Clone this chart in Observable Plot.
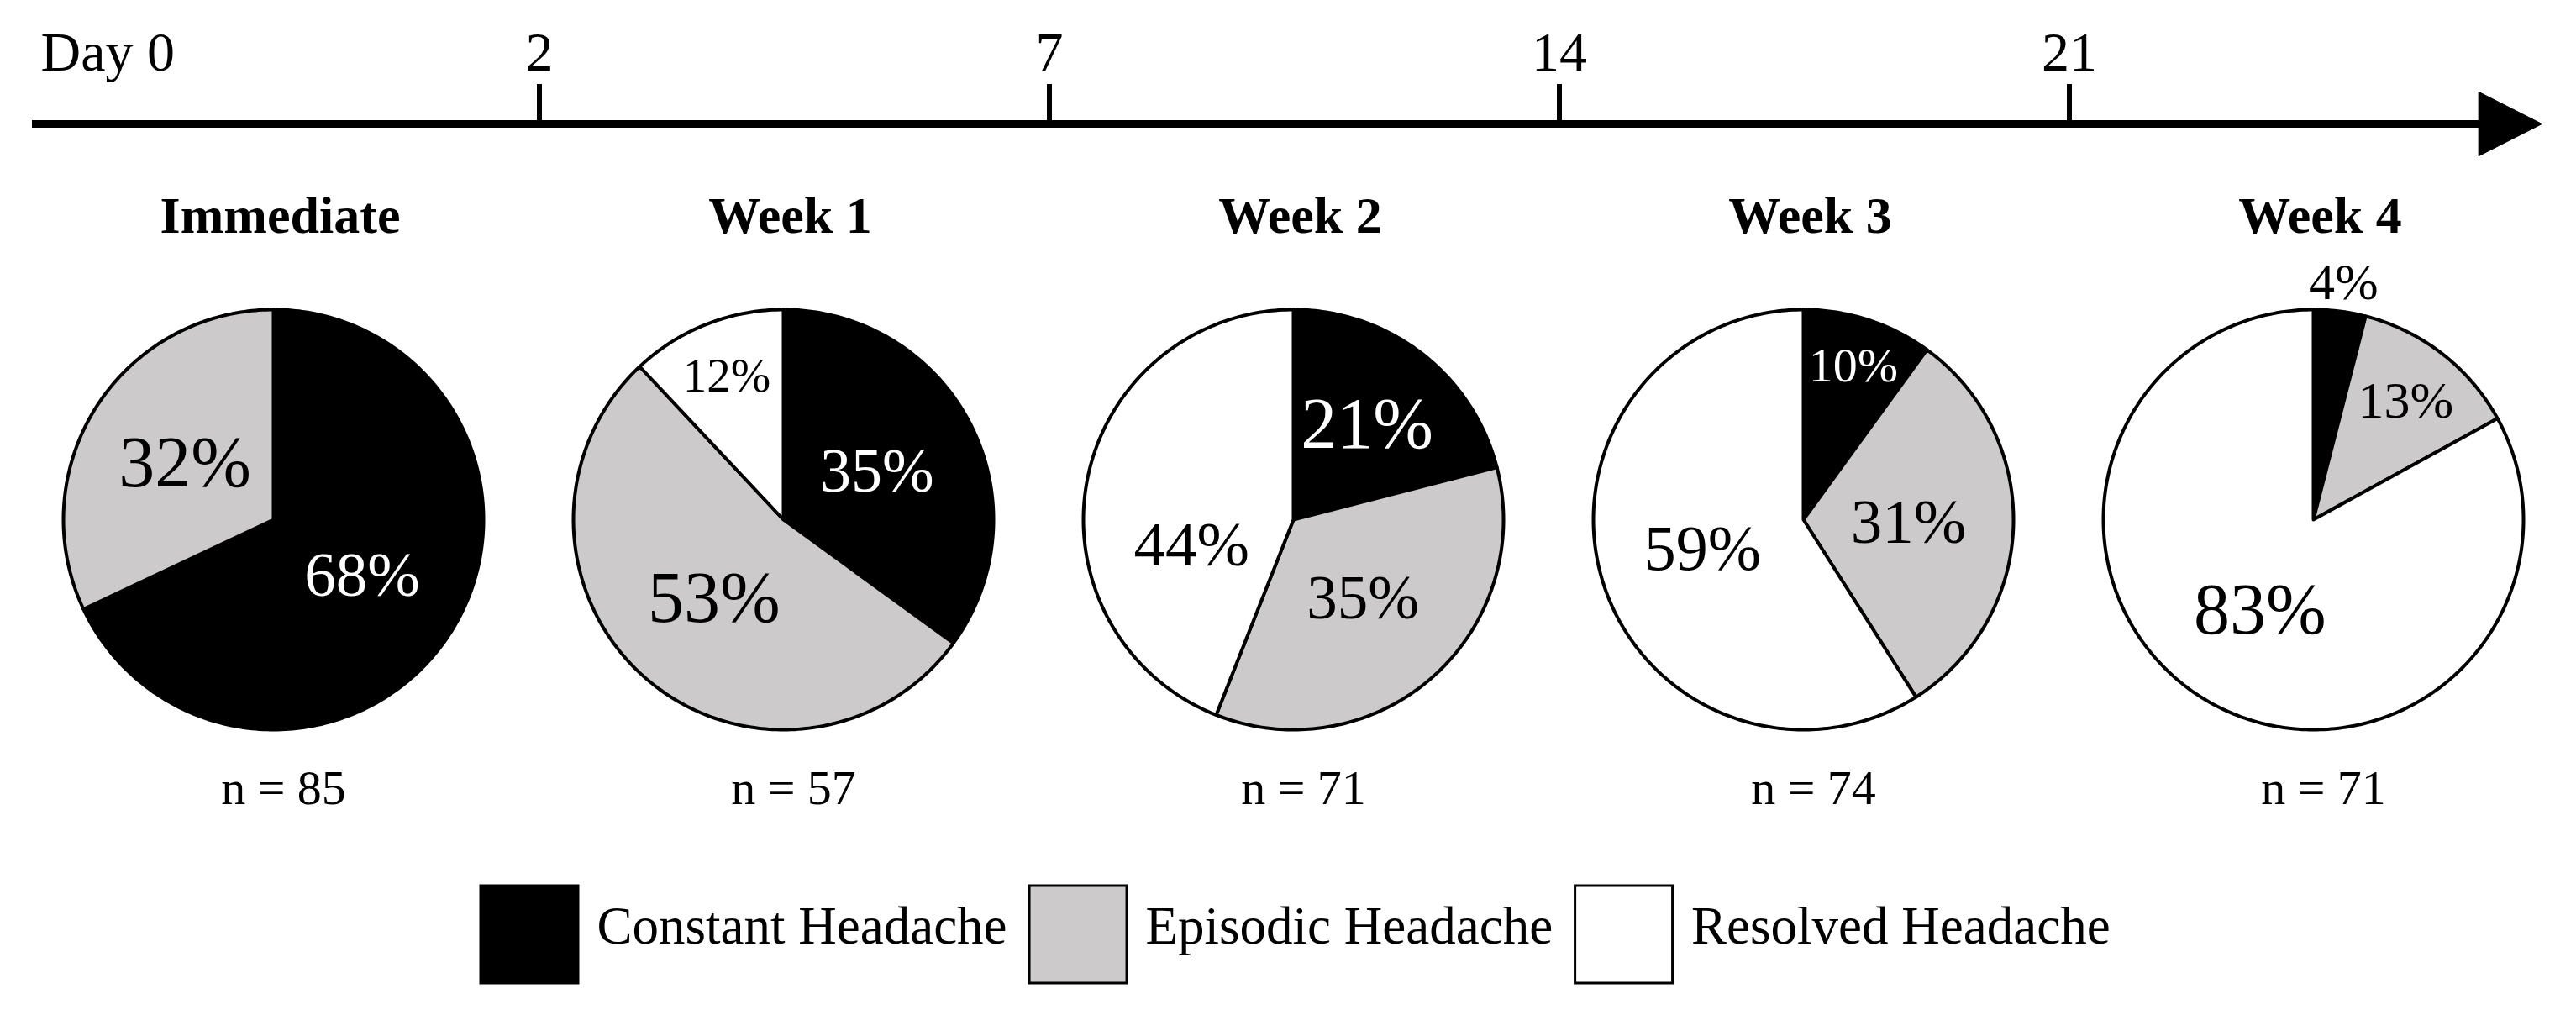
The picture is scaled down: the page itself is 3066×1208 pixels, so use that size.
<!DOCTYPE html>
<html>
<head>
<meta charset="utf-8">
<script src="https://cdn.jsdelivr.net/npm/d3@7"></script>
<script src="https://cdn.jsdelivr.net/npm/@observablehq/plot@0.6"></script>
<style>
  html, body { margin: 0; padding: 0; background: #fff; }
  #chart svg { display: block; }
</style>
</head>
<body>
<div id="chart"></div>
<script>
// ---------------- data ----------------
const periods = ["Immediate", "Week 1", "Week 2", "Week 3", "Week 4"];
const sampleSizes = [85, 57, 71, 74, 71];
const categories = ["Constant Headache", "Episodic Headache", "Resolved Headache"];
const constantPct = [68, 35, 21, 10, 4];
const episodicPct = [32, 53, 35, 31, 13];
const resolvedPct = [0, 12, 44, 59, 83];
const dayLabels = ["Day 0", "2", "7", "14", "21"];

// ---------------- style / layout ----------------
const colors = ["#000000", "#cccacb", "#ffffff"];
// per-label font sizes (style only), [period][category]
const labelFontSize = [
  [75, 86, 0],
  [74, 86, 57],
  [86, 73, 75],
  [58, 75, 76],
  [62, 62, 86]
];
// per-label angular nudge in degrees (layout only), [period][category]
const labelAngleShift = [
  [0, 0, 0],
  [0, 0, 0],
  [0, 0, -25],
  [0, 0, 0],
  [0, 0, 0]
];
const W = 3066, H = 1208;
const FONT = "'Liberation Serif', 'Times New Roman', serif";
const PIE0 = 325, STEP = 607, CY = 618, R = 250;
const LINE_Y = 147, LINE_X0 = 38, ARROW_BASE = 2950, ARROW_TIP = 3025, ARROW_HALF = 38;
const cx = i => PIE0 + STEP * i;

const series = [constantPct, episodicPct, resolvedPct];

// slices as closed polygons computed from the values
const slicePts = [];
const labels = [];
periods.forEach((p, i) => {
  let cum = 0;
  series.forEach((arr, k) => {
    const v = arr[i];
    if (v > 0) {
      const a0 = cum / 100 * 2 * Math.PI, a1 = (cum + v) / 100 * 2 * Math.PI;
      const id = i + "-" + k;
      slicePts.push({id, cat: categories[k], x: cx(i), y: CY});
      const n = Math.max(2, Math.ceil((a1 - a0) / (Math.PI / 180)));
      for (let j = 0; j <= n; j++) {
        const a = a0 + (a1 - a0) * j / n;
        slicePts.push({id, cat: categories[k], x: cx(i) + R * Math.sin(a), y: CY - R * Math.cos(a)});
      }
      const mid = (a0 + a1) / 2 + labelAngleShift[i][k] * Math.PI / 180;
      const outside = v < 6;
      const rf = outside ? 1.14 : v < 25 ? 0.5 + (25 - v) * 0.018 : 0.5;
      labels.push({
        text: v + "%",
        x: cx(i) + rf * R * Math.sin(mid),
        y: CY - rf * R * Math.cos(mid),
        size: labelFontSize[i][k],
        white: k === 0 && !outside
      });
    }
    cum += v;
  });
});

const tickPos = dayLabels.slice(1).map((d, j) => (cx(j) + cx(j + 1)) / 2 + 13);

// legend layout derived from measured text widths
const ctx = document.createElement("canvas").getContext("2d");
ctx.font = "63px " + FONT;
let lx = 572;
const legendItems = categories.map(c => {
  const item = {cat: c, x1: lx, x2: lx + 116, tx: lx + 116 + 22};
  lx = item.tx + ctx.measureText(c).width + 27;
  return item;
});

const chart = Plot.plot({
  width: W,
  height: H,
  margin: 0,
  x: {domain: [0, W], range: [0, W], axis: null},
  y: {domain: [0, H], range: [0, H], axis: null},
  color: {domain: categories, range: colors},
  style: {fontFamily: FONT, background: "#fff", color: "#000"},
  marks: [
    // timeline
    Plot.ruleY([LINE_Y], {x1: LINE_X0, x2: ARROW_BASE + 5, strokeWidth: 9, stroke: "black"}),
    Plot.line([
      {x: ARROW_BASE, y: LINE_Y - ARROW_HALF},
      {x: ARROW_TIP, y: LINE_Y},
      {x: ARROW_BASE, y: LINE_Y + ARROW_HALF}
    ], {x: "x", y: "y", curve: "linear-closed", fill: "black", stroke: "black", strokeWidth: 1}),
    Plot.ruleX(tickPos, {x: d => d, y1: 100, y2: LINE_Y, strokeWidth: 6, stroke: "black"}),
    Plot.text(dayLabels.slice(1), {x: (d, j) => tickPos[j], y: 83, text: d => d, lineAnchor: "bottom", fontSize: 66, fill: "black"}),
    Plot.text([dayLabels[0]], {x: LINE_X0 + 10, y: 83, text: d => d, textAnchor: "start", lineAnchor: "bottom", fontSize: 66, fill: "black"}),
    // titles
    Plot.text(periods, {x: (d, i) => cx(i) + 8, y: 276, text: d => d, lineAnchor: "bottom", fontSize: 62, fontWeight: "bold", fill: "black"}),
    // pies
    Plot.line(slicePts, {x: "x", y: "y", z: "id", fill: "cat", stroke: "black", strokeWidth: 4, strokeLinejoin: "round", curve: "linear-closed"}),
    // percentage labels
    Plot.text(labels.filter(d => !d.white), {x: "x", y: "y", text: "text", fontSize: "size", lineAnchor: "middle", fill: "black"}),
    Plot.text(labels.filter(d => d.white), {x: "x", y: "y", text: "text", fontSize: "size", lineAnchor: "middle", fill: "white"}),
    // sample sizes
    Plot.text(sampleSizes, {x: (d, i) => cx(i) + 12, y: 956, text: d => "n = " + d, lineAnchor: "bottom", fontSize: 58, fill: "black"}),
    // legend
    Plot.rect(legendItems, {x1: "x1", x2: "x2", y1: 1054, y2: 1170, fill: "cat", stroke: "black", strokeWidth: 3}),
    Plot.text(legendItems, {x: "tx", y: 1122, text: "cat", textAnchor: "start", lineAnchor: "bottom", fontSize: 63, fill: "black"})
  ]
});
document.getElementById("chart").appendChild(chart);
</script>
</body>
</html>
